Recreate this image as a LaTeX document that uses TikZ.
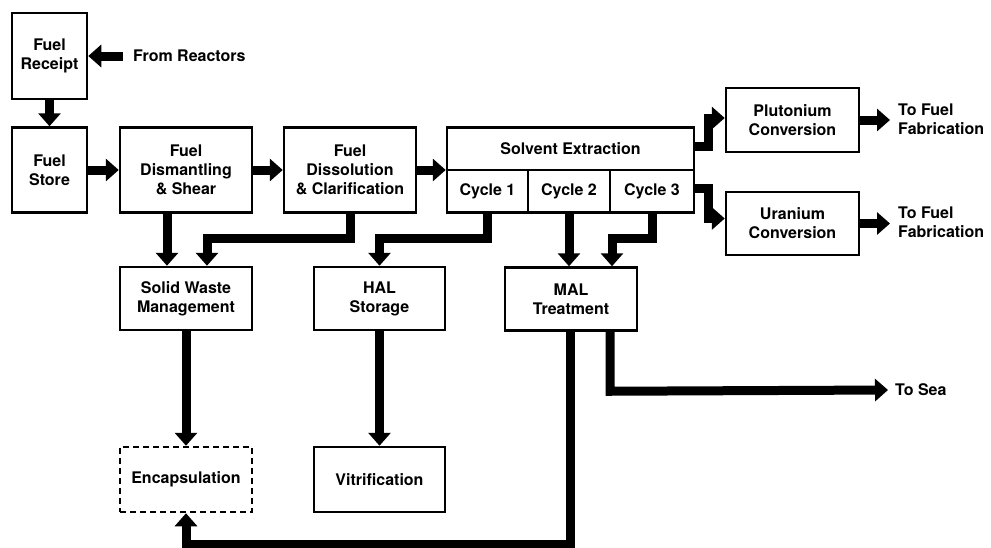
\documentclass[tikz,border=0pt]{standalone}
\usepackage{fontspec}
\setmainfont{TeX Gyre Heros}
\usetikzlibrary{arrows.meta}
\tikzset{
  txt/.style={font=\bfseries\fontsize{16}{19}\selectfont},
  box/.style={txt, draw, line width=2.5pt, align=center, inner sep=0pt},
  lbl/.style={txt, align=left, inner sep=0pt, anchor=west},
  flow/.style={line width=9pt, line join=miter, -{Triangle[length=13pt,width=22pt]}},
}
\begin{document}
\begin{tikzpicture}[x=1pt,y=-1pt]
\useasboundingbox (0,0) rectangle (991,547);
% boxes
\node[box, minimum width=75pt, minimum height=86pt] (rec) at (49.5,56) {Fuel\\Receipt};
\node[box, minimum width=75pt, minimum height=85pt] (sto) at (49.5,170) {Fuel\\Store};
\node[box, minimum width=132pt, minimum height=85pt] (dsm) at (186,170) {Fuel\\Dismantling\\\& Shear};
\node[box, minimum width=132pt, minimum height=85pt] (dsl) at (350,170) {Fuel\\Dissolution\\\& Clarification};
\node[box, minimum width=247pt, minimum height=42.5pt] (se) at (570.5,148.75) {Solvent Extraction};
\node[box, minimum width=81pt, minimum height=42.5pt] (c1) at (487.5,191.25) {Cycle 1};
\node[box, minimum width=82pt, minimum height=42.5pt] (c2) at (569,191.25) {Cycle 2};
\node[box, minimum width=84pt, minimum height=42.5pt] (c3) at (652,191.25) {Cycle 3};
\node[box, minimum width=133pt, minimum height=64pt] (pu) at (792.5,120) {Plutonium\\Conversion};
\node[box, minimum width=133pt, minimum height=63pt] (ur) at (792.5,223.5) {Uranium\\Conversion};
\node[box, minimum width=132pt, minimum height=63pt] (sw) at (186,298.5) {Solid Waste\\Management};
\node[box, minimum width=131pt, minimum height=63pt] (hal) at (379.5,298.5) {HAL\\Storage};
\node[box, minimum width=132pt, minimum height=63pt] (mal) at (571,299) {MAL\\Treatment};
\node[box, minimum width=132pt, minimum height=65pt, dash pattern=on 6pt off 4pt] (enc) at (186,479.5) {Encapsulation};
\node[box, minimum width=131pt, minimum height=65pt] (vit) at (379.5,479.5) {Vitrification};
% labels
\node[lbl] (fr) at (133,56) {From Reactors};
\node[lbl] (tf1) at (898,119) {To Fuel\\Fabrication};
\node[lbl] (tf2) at (898,222.5) {To Fuel\\Fabrication};
\node[lbl] (sea) at (895,390) {To Sea};
\coordinate (frt) at ([xshift=-10pt]fr.west);
\coordinate (t1) at ([xshift=-8pt]tf1.west);
\coordinate (t2) at ([xshift=-8pt]tf2.west);
\coordinate (ts) at ([xshift=-7pt]sea.west);
\coordinate (pui) at ([yshift=2pt]pu.west);
\coordinate (uri) at ([yshift=5pt]ur.west);
% flows
\draw[flow] (frt) -- (frt -| rec.east);
\draw[flow] (rec.south) -- (sto.north);
\draw[flow] (sto.east) -- (dsm.west);
\draw[flow] (dsm.east) -- (dsl.west);
\draw[flow] (dsl.east) -- (dsl.east -| se.west);
\draw[flow] ([xshift=-19pt]dsm.south) -- ([xshift=-19pt]sw.north);
\draw[flow] (dsl.south) -- ++(0,24.5) -| ([xshift=21pt]sw.north);
\draw[flow] (c1.south) -- ++(0,24.5) -| (hal.north);
\draw[flow] (c2.south) -- (c2.south |- mal.north);
\draw[flow] (c3.south) -- ++(0,24.5) -| ([xshift=41pt]mal.north);
\draw[flow] ([yshift=2pt]se.east) -- ++(13,0) |- (pui);
\draw[flow] ([yshift=3pt]c3.east) -- ++(13,0) |- (uri);
\draw[flow] (pu.east) -- (pu.east -| t1);
\draw[flow] (ur.east) -- (ur.east -| t2);
\draw[flow] (sw.south) -- (enc.north);
\draw[flow] (hal.south) -- (vit.north);
\draw[flow] ([xshift=-1pt]mal.south) -- ++(0,212.5) -| (enc.south);
\draw[flow] ([xshift=39pt]mal.south) -- ++(0,59.5) -- (ts);
\end{tikzpicture}
\end{document}
